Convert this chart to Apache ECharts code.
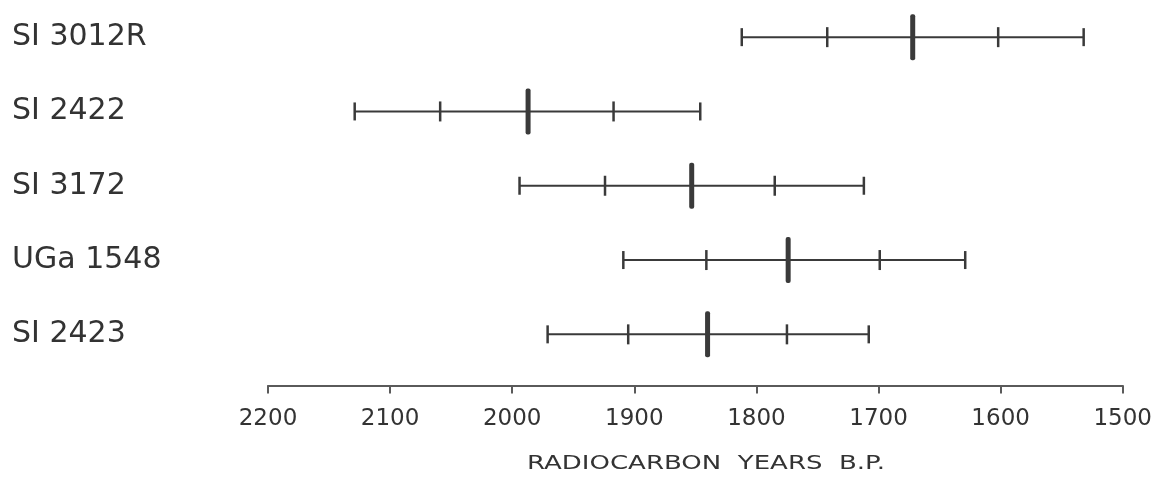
<!DOCTYPE html>
<html>
<head>
<meta charset="utf-8">
<script src="https://cdn.jsdelivr.net/npm/echarts@6/dist/echarts.min.js"></script>
<style>
html,body{margin:0;padding:0;background:#fff;overflow:hidden;}
#chart{width:1155px;height:479px;}
</style>
</head>
<body>
<div id="chart"></div>
<script>
// Sample labels (top to bottom)
const samples = ['SI 3012R', 'SI 2422', 'SI 3172', 'UGa 1548', 'SI 2423'];
// Radiocarbon ages (years B.P.)
const outerOld   = [1812, 2129, 1994, 1909, 1971]; // 2 sigma (older)
const innerOld   = [1742, 2059, 1924, 1841, 1905]; // 1 sigma (older)
const midAge     = [1672, 1987, 1853, 1774, 1840]; // mean age
const innerYoung = [1602, 1917, 1785, 1699, 1775]; // 1 sigma (younger)
const outerYoung = [1532, 1846, 1712, 1629, 1708]; // 2 sigma (younger)
// Axis ticks
const axisMin = 1500, axisMax = 2200, axisStep = 100;
const axisTitle = 'RADIOCARBON  YEARS  B.P.';

const seriesData = samples.map((s, i) => [i, outerOld[i], innerOld[i], midAge[i], innerYoung[i], outerYoung[i]]);

const ink = '#3a3a3a';
const chart = echarts.init(document.getElementById('chart'), null, { width: 1155, height: 479 });
chart.setOption({
  backgroundColor: '#ffffff',
  animation: false,
  grid: { left: 268, width: 860, top: -1.5, height: 373, containLabel: false },
  xAxis: {
    type: 'value',
    min: axisMin, max: axisMax, interval: axisStep,
    inverse: true,
    offset: 14,
    axisLine: { show: true, lineStyle: { color: '#5a5a5a', width: 2 } },
    axisTick: { show: true, length: 8, lineStyle: { color: '#5a5a5a', width: 2 } },
    splitLine: { show: false },
    axisLabel: {
      show: true, margin: 22, fontSize: 23, color: '#333', fontFamily: 'DejaVu Sans',
      formatter: v => String(v)
    }
  },
  yAxis: {
    type: 'category',
    data: samples,
    inverse: true,
    axisLine: { show: false },
    axisTick: { show: false },
    splitLine: { show: false },
    axisLabel: {
      show: true, align: 'left', margin: 256, fontSize: 30, color: '#333',
      fontFamily: 'DejaVu Sans', verticalAlign: 'middle', padding: [7, 0, 0, 0]
    }
  },
  graphic: [{
    type: 'text', x: 527, y: 464, scaleX: 1.3,
    style: { text: axisTitle, font: '20px "DejaVu Sans"', fill: '#333', verticalAlign: 'middle', align: 'left' }
  }],
  series: [{
    type: 'custom',
    data: seriesData,
    encode: { x: [1, 2, 3, 4, 5], y: 0 },
    clip: false,
    renderItem: function (params, api) {
      const cat = api.value(0);
      const y = api.coord([api.value(3), cat])[1];
      const xs = [1, 2, 3, 4, 5].map(d => api.coord([api.value(d), cat])[0]);
      const line = (x1, y1, x2, y2, w) => ({
        type: 'line', shape: { x1, y1, x2, y2 }, style: { stroke: ink, lineWidth: w }
      });
      return {
        type: 'group',
        children: [
          line(xs[0], y, xs[4], y, 2),
          line(xs[0], y - 9, xs[0], y + 9, 2.5),
          line(xs[4], y - 9, xs[4], y + 9, 2.5),
          line(xs[1], y - 10, xs[1], y + 10, 2.5),
          line(xs[3], y - 10, xs[3], y + 10, 2.5),
          { type: 'rect', shape: { x: xs[2] - 2.5, y: y - 23, width: 5, height: 46, r: 2 }, style: { fill: ink } }
        ]
      };
    }
  }]
});
</script>
</body>
</html>
